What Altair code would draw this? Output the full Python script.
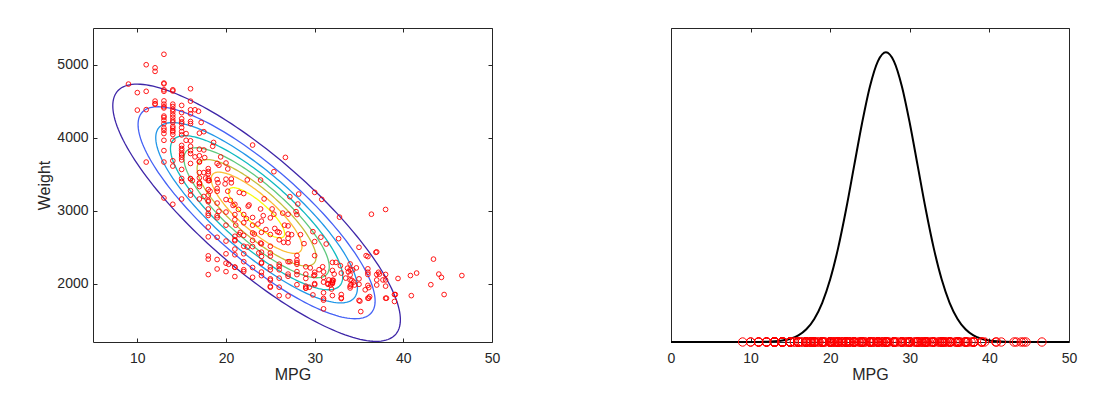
import altair as alt
import numpy as np
import pandas as pd

# ---------------- data ----------------
# cars whose MPG is a whole number: one weight list per MPG value
INT_MPG = [9, 10, 11, 12, 13, 14, 15, 16, 17, 18, 19, 20, 21, 22, 23, 24, 25,
           26, 27, 28, 29, 30, 31, 32, 33, 34, 35, 36, 37, 38, 39]
INT_WEIGHTS = [
    [4732],
    [4615, 4376],
    [4997, 4633, 4382, 3664],
    [4955, 4906, 4499, 4464, 4456],
    [5140, 4746, 4735, 4654, 4633, 4502, 4457, 4422, 4405, 4294, 4274, 4237,
     4190, 4129, 4098, 4055, 3962, 3821, 3664, 3172],
    [4654, 4638, 4457, 4425, 4385, 4354, 4312, 4276, 4237, 4209, 4154, 4129,
     4096, 4077, 4042, 3962, 3682, 3609, 3086],
    [4440, 4341, 4257, 4215, 4190, 4135, 4082, 4036, 3892, 3850, 3821, 3777,
     3761, 3730, 3693, 3563, 3439, 3399, 3158],
    [4668, 4498, 4380, 4325, 4220, 4190, 3955, 3880, 3820, 3781, 3645, 3433,
     3439, 3272, 3211],
    [4060, 3840, 3750, 3672, 3664, 3520, 3449, 3380, 3365, 3329, 3158],
    [3574, 3535, 3504, 3436, 3410, 3288, 3211, 3139, 3121, 3021, 2962, 2933,
     2774, 2640, 2380, 2335, 2123],
    [3645, 3425, 3302, 3264, 3102, 2930, 2901, 2634, 2330, 2200],
    [3651, 3430, 3151, 2979, 2800, 2582, 2408, 2279, 2164],
    [3085, 2648, 2587, 2226, 2600, 2395, 2945, 2875, 2472, 2223, 2096],
    [2833, 2408, 2511, 3233, 2945, 2300, 2660, 2190, 2164],
    [2506, 2220, 3897, 2592, 2694, 2800, 2905, 2086],
    [2372, 2430, 2158, 2278, 2702, 2855, 2545, 2290, 2109],
    [2672, 2375, 2228, 2046, 2065, 2189, 2511, 1950, 2900, 2420, 1963],
    [1835, 2234, 2074, 2189, 2265, 1950, 2700, 2600],
    [2130, 2100, 1830, 2560, 2790, 2680, 2300, 2620, 2950],
    [2264, 2123, 2288, 2164, 2320, 1985, 2385, 2945],
    [1937, 2130, 2070, 2230, 1940, 1965],
    [2155, 2120, 1985, 2000, 3249, 2383, 2575],
    [1773, 1795, 1875, 2085, 2020, 2160, 1654],
    [1836, 2000, 2045, 2180, 2290, 2020, 2018],
    [1795, 2144, 1850, 1804],
    [1940, 1965, 2050, 2120, 2190, 2269],
    [1990, 2065, 1770, 2497],
    [2202, 1800, 2125, 2370, 1975, 2155],
    [2434, 2050, 2125, 1980],
    [1800, 3015, 2125, 1965, 2050],
    [1755, 1850],
]

# cars whose MPG has a decimal part (paired lists)
DEC_MPG = [15.5, 15.5, 16.5, 16.9, 16.5, 16.2, 17.5, 17.5, 17.5, 17.5, 17.6, 17.7, 17.2,
           18.1, 18.2, 18.5, 18.6,
           19.2, 19.4, 19.1, 19.9, 19.2,
           20.2, 20.2, 20.5, 20.6, 20.8, 20.3, 20.6,
           21.1, 21.5, 21.6, 21.5, 21.4,
           22.3, 22.4, 22.5, 22.6, 22.4,
           23.2, 23.7, 23.9, 23.6, 23.9, 23.9,
           24.2, 24.3, 24.5,
           25.4, 25.5, 25.8, 25.4, 25.2,
           26.4, 26.6, 26.7, 26.5,
           27.2, 27.4, 27.9, 27.2,
           28.1, 28.4, 28.8, 28.2,
           29.5, 29.8, 29.9, 29.4, 29.8,
           30.5, 30.7, 30.9, 30.8,
           31.3, 31.5, 31.6, 31.8, 31.9, 31.5,
           32.1, 32.2, 32.4, 32.7, 32.8, 32.9,
           33.5, 33.7, 33.8,
           34.1, 34.2, 34.3, 34.4, 34.5, 34.7,
           35.1, 35.7, 35.8, 35.2,
           36.1, 36.1, 36.4, 36.2, 36.9,
           37.2, 37.3, 37.7,
           38.1,
           39.4, 39.1,
           40.8, 40.9, 41.5, 43.1, 43.4, 44.0, 44.3, 44.6, 46.6]
DEC_WEIGHT = [4054, 3962, 4380, 4360, 3735, 3410, 4080, 3830, 3520, 3193, 3725, 3445, 4207,
              3410, 3265, 3880, 3933,
              3620, 3735, 3381, 3365, 2990,
              3265, 3570, 3140, 3380, 3070, 2264, 3432,
              2800, 2670, 2700, 3249, 3016,
              2890, 3420, 3060, 3077, 2500,
              2678, 2420, 2556, 2815, 3418, 3022,
              2930, 3160, 2740,
              2950, 2755, 2711, 3532, 3022,
              2965, 2800, 3728, 2565,
              2300, 2670, 2985, 3190,
              3090, 2670, 2547, 3226,
              2215, 1845, 2110, 1950, 2711,
              2190, 2635, 2230, 3153,
              2542, 1990, 2050, 1980, 1925, 2000,
              2045, 2130, 2290, 2615, 2910, 2245,
              2075, 2210, 2160,
              1985, 2045, 2188, 2020, 1980, 2215,
              1760, 1915, 2383, 1617,
              1800, 1945, 2950, 1822, 2428,
              2155, 2130, 2050,
              1800,
              2070, 1850,
              2110, 1835, 2144, 1985, 2335, 2130, 2085, 1850, 2110]
assert len(DEC_MPG) == len(DEC_WEIGHT)
assert len(INT_MPG) == len(INT_WEIGHTS)

# fitted 2-D Gaussian and contour levels
GAUSS_MEAN = [23.45, 2970.0]
GAUSS_SD = [7.8, 847.0]
GAUSS_RHO = -0.832
CONTOUR_LEVELS = [0.5e-5, 1.0e-5, 1.5e-5, 2.0e-5, 2.5e-5, 3.0e-5, 3.5e-5, 4.0e-5]
CONTOUR_COLORS = ["#3E26A8", "#4562F5", "#2197E8", "#10BAC1",
                  "#5EC87D", "#C4BF3D", "#FBBE36", "#F9FB0E"]

# 1-D density curve (right panel)
CURVE_MPG = [0, 1, 2, 3, 4, 5, 6, 7, 8, 9, 10, 11, 12, 13, 14, 15, 16, 17, 18, 19,
             20, 21, 22, 23, 24, 25, 26, 27, 28, 29, 30, 31, 32, 33, 34, 35, 36, 37,
             38, 39, 40, 41, 42, 43, 44, 45, 46, 47, 48, 49, 50]
CURVE_DENSITY = [0, 0, 0, 0, 0, 0, 0, 0, 0, 0, 0,
                 0.00003, 0.00009, 0.00022, 0.00051, 0.00111, 0.00227, 0.00438,
                 0.00794, 0.01349, 0.02157, 0.03237, 0.04564, 0.06047, 0.07525,
                 0.08799, 0.09663, 0.0997, 0.09663, 0.08799, 0.07525, 0.06047,
                 0.04564, 0.03237, 0.02157, 0.01349, 0.00794, 0.00438, 0.00227,
                 0.00111, 0.00051, 0.00022, 0.00009, 0.00003,
                 0, 0, 0, 0, 0, 0, 0]
assert len(CURVE_MPG) == len(CURVE_DENSITY)

X_TICKS_LEFT = [10, 20, 30, 40, 50]
Y_TICKS_LEFT = [2000, 3000, 4000, 5000]
X_TICKS_RIGHT = [0, 10, 20, 30, 40, 50]

# ---------------- tables ----------------
mpg_all, w_all = [], []
for m, ws in zip(INT_MPG, INT_WEIGHTS):
    for w in ws:
        mpg_all.append(m)
        w_all.append(w)
mpg_all += DEC_MPG
w_all += DEC_WEIGHT
scatter_df = pd.DataFrame({"MPG": mpg_all, "Weight": w_all})
rug_df = pd.DataFrame({"MPG": mpg_all, "Density": [0.0] * len(mpg_all)})
curve_df = pd.DataFrame({"MPG": CURVE_MPG, "Density": CURVE_DENSITY})

# contour lines of the fitted Gaussian
sx, sy = GAUSS_SD
fmax = 1.0 / (2 * np.pi * sx * sy * np.sqrt(1 - GAUSS_RHO ** 2))
t = np.linspace(0, 2 * np.pi, 181)
rows = []
for k, lev in enumerate(CONTOUR_LEVELS):
    r = np.sqrt(-2 * np.log(lev / fmax))
    z1, z2 = r * np.cos(t), r * np.sin(t)
    xs = GAUSS_MEAN[0] + sx * z1
    ys = GAUSS_MEAN[1] + sy * (GAUSS_RHO * z1 + np.sqrt(1 - GAUSS_RHO ** 2) * z2)
    for i, (a, b) in enumerate(zip(xs, ys)):
        rows.append({"MPG": float(a), "Weight": float(b), "level": k, "idx": i})
contour_df = pd.DataFrame(rows)

# ---------------- chart ----------------
W_L, H = 399, 314
W_R = 398
INK = "#262626"
FONT = "Liberation Sans"

def x_axis(values, width_h):
    return alt.Axis(values=values, title="MPG", format="d", grid=True, gridColor=INK,
                    gridWidth=1, gridDash=[4, width_h - 8], ticks=False, domain=False,
                    labelFlush=False, labelPadding=9, titlePadding=1,
                    labelFont=FONT, titleFont=FONT, labelFontSize=14, titleFontSize=16,
                    titleFontWeight="normal", labelColor=INK, titleColor=INK)

xL = alt.X("MPG:Q", scale=alt.Scale(domain=[5, 50], nice=False, zero=False),
           axis=x_axis(X_TICKS_LEFT, H))
yL = alt.Y("Weight:Q", scale=alt.Scale(domain=[1200, 5500], nice=False, zero=False),
           axis=alt.Axis(values=Y_TICKS_LEFT, title="Weight", format="d", grid=True,
                         gridColor=INK, gridWidth=1, gridDash=[4, W_L - 8], ticks=False,
                         domain=False, labelPadding=5, titlePadding=4, labelFont=FONT,
                         titleFont=FONT, labelFontSize=14, titleFontSize=16,
                         titleFontWeight="normal", labelColor=INK, titleColor=INK))

contours = alt.Chart(contour_df).mark_line(strokeWidth=1.3, clip=True).encode(
    x=xL, y=yL,
    color=alt.Color("level:O", scale=alt.Scale(domain=list(range(len(CONTOUR_LEVELS))),
                                               range=CONTOUR_COLORS), legend=None),
    detail="level:O",
    order="idx:Q",
)
points = alt.Chart(scatter_df).mark_point(shape="circle", filled=False, color="#FF0000",
                                          size=22, strokeWidth=0.9, opacity=1).encode(x=xL, y=yL)
left = alt.layer(contours, points).properties(width=W_L, height=H)

xR = alt.X("MPG:Q", scale=alt.Scale(domain=[0, 50], nice=False, zero=False),
           axis=x_axis(X_TICKS_RIGHT, H))
yR = alt.Y("Density:Q", scale=alt.Scale(domain=[0, 0.108], nice=False, zero=False), axis=None)
curve = alt.Chart(curve_df).mark_line(color="black", strokeWidth=2,
                                      interpolate="monotone").encode(x=xR, y=yR)
rug = alt.Chart(rug_df).mark_point(shape="circle", filled=False, color="#FF0000", size=70,
                                   strokeWidth=1, opacity=1).encode(x=xR, y=yR)
right = alt.layer(curve, rug).properties(width=W_R, height=H)

chart = alt.hconcat(left, right, spacing=165).properties(
    padding={"left": 28, "top": 19, "right": 5, "bottom": 5}
).configure_view(stroke=INK, strokeWidth=1)

chart.save("out.html", embed_options={"renderer": "svg", "actions": False})
